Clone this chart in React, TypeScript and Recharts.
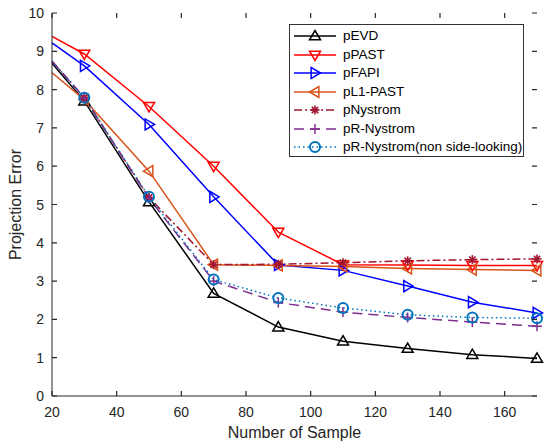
import React from "react";
import { LineChart, Line, XAxis, YAxis, Legend } from "recharts";

const samples = [20, 30, 50, 70, 90, 110, 130, 150, 170];
const pEVD = [8.69, 7.7, 5.07, 2.68, 1.8, 1.43, 1.24, 1.08, 0.98];
const pPAST = [9.39, 8.93, 7.56, 6.0, 4.28, 3.43, 3.42, 3.41, 3.41];
const pFAPI = [9.22, 8.62, 7.09, 5.2, 3.42, 3.28, 2.87, 2.45, 2.17];
const pL1PAST = [8.44, 7.74, 5.87, 3.43, 3.41, 3.38, 3.33, 3.3, 3.28];
const pNystrom = [8.75, 7.79, 5.18, 3.43, 3.44, 3.48, 3.53, 3.56, 3.58];
const pRNystrom = [8.73, 7.78, 5.16, 3.0, 2.44, 2.19, 2.05, 1.93, 1.82];
const pRNystromNSL = [8.74, 7.79, 5.2, 3.04, 2.56, 2.3, 2.12, 2.05, 2.03];

const xTicks = [20, 40, 60, 80, 100, 120, 140, 160];
const yTicks = [0, 1, 2, 3, 4, 5, 6, 7, 8, 9, 10];

type Kind = "up" | "down" | "right" | "left" | "star" | "plus" | "circle";

interface Series {
  key: string;
  name: string;
  color: string;
  kind: Kind;
  dash?: string;
  values: number[];
}

const SERIES: Series[] = [
  { key: "evd", name: "pEVD", color: "#000000", kind: "up", values: pEVD },
  { key: "past", name: "pPAST", color: "#FF0000", kind: "down", values: pPAST },
  { key: "fapi", name: "pFAPI", color: "#0000FF", kind: "right", values: pFAPI },
  { key: "l1", name: "pL1-PAST", color: "#D95319", kind: "left", values: pL1PAST },
  { key: "nys", name: "pNystrom", color: "#A2142F", kind: "star", dash: "8 3 2 3", values: pNystrom },
  { key: "rnys", name: "pR-Nystrom", color: "#7E2F8E", kind: "plus", dash: "10 6", values: pRNystrom },
  { key: "nsl", name: "pR-Nystrom(non side-looking)", color: "#0072BD", kind: "circle", dash: "1.5 3", values: pRNystromNSL },
];

const data = samples.map((x, i) => {
  const row: Record<string, number> = { x };
  SERIES.forEach((s) => (row[s.key] = s.values[i]));
  return row;
});

const FONT = "'Liberation Sans', Arial, sans-serif";
const INK = "#262626";

// plot frame (chart size minus margins / axis sizes)
const W = 550;
const H = 448;
const M = { top: 13, right: 13, bottom: 0, left: 0 };
const X_AXIS_H = 52;
const Y_AXIS_W = 52;
const FRAME = { left: Y_AXIS_W, right: W - M.right, top: M.top, bottom: H - X_AXIS_H };
const TICK_LEN = 5;

function Marker({ cx, cy, kind, color }: { cx: number; cy: number; kind: Kind; color: string }) {
  const r = 5.5;
  const common = { fill: "none", stroke: color, strokeWidth: 1.5 };
  switch (kind) {
    case "up":
      return <polygon points={`${cx},${cy - r} ${cx + r},${cy + r * 0.7} ${cx - r},${cy + r * 0.7}`} {...common} />;
    case "down":
      return <polygon points={`${cx},${cy + r} ${cx + r},${cy - r * 0.7} ${cx - r},${cy - r * 0.7}`} {...common} />;
    case "right":
      return <polygon points={`${cx + r},${cy} ${cx - r * 0.7},${cy - r} ${cx - r * 0.7},${cy + r}`} {...common} />;
    case "left":
      return <polygon points={`${cx - r},${cy} ${cx + r * 0.7},${cy - r} ${cx + r * 0.7},${cy + r}`} {...common} />;
    case "star": {
      const a = 4.5;
      const d = a * 0.707;
      return (
        <g stroke={color} strokeWidth={1.6}>
          <line x1={cx - a} y1={cy} x2={cx + a} y2={cy} />
          <line x1={cx} y1={cy - a} x2={cx} y2={cy + a} />
          <line x1={cx - d} y1={cy - d} x2={cx + d} y2={cy + d} />
          <line x1={cx - d} y1={cy + d} x2={cx + d} y2={cy - d} />
        </g>
      );
    }
    case "plus":
      return (
        <g stroke={color} strokeWidth={1.5}>
          <line x1={cx - 5} y1={cy} x2={cx + 5} y2={cy} />
          <line x1={cx} y1={cy - 5} x2={cx} y2={cy + 5} />
        </g>
      );
    default:
      return <circle cx={cx} cy={cy} r={5} fill="none" stroke={color} strokeWidth={2} />;
  }
}

function dotFor(s: Series) {
  return (props: any) => {
    const { cx, cy, payload, index } = props;
    // the curve starts at x=20 but markers begin at 30
    if (payload.x === 20 || cx == null || cy == null) return <g key={`${s.key}-${index}`} />;
    return (
      <g key={`${s.key}-${index}`}>
        <Marker cx={cx} cy={cy} kind={s.kind} color={s.color} />
      </g>
    );
  };
}

// MATLAB-style ticks: inward marks on both sides of the box, label outside
function XTick(props: any) {
  const { x, payload } = props;
  const cx = payload.coordinate ?? x;
  return (
    <g>
      <path d={`M${cx},${FRAME.bottom}V${FRAME.bottom - TICK_LEN}M${cx},${FRAME.top}V${FRAME.top + TICK_LEN}`} stroke={INK} strokeWidth={1.2} fill="none" />
      <text x={cx} y={FRAME.bottom + 21} textAnchor="middle" fontSize={14} fill={INK} fontFamily={FONT}>
        {payload.value}
      </text>
    </g>
  );
}

function YTick(props: any) {
  const { y, payload } = props;
  const cy = payload.coordinate ?? y;
  return (
    <g>
      <path d={`M${FRAME.left},${cy}H${FRAME.left + TICK_LEN}M${FRAME.right},${cy}H${FRAME.right - TICK_LEN}`} stroke={INK} strokeWidth={1.2} fill="none" />
      <text x={FRAME.left - 8} y={cy + 5} textAnchor="end" fontSize={14} fill={INK} fontFamily={FONT}>
        {payload.value}
      </text>
    </g>
  );
}

function LegendBox() {
  return (
    <div
      style={{
        width: 235,
        height: 133,
        border: "1px solid #333",
        background: "#fff",
        paddingTop: 2,
        boxSizing: "border-box",
        fontFamily: FONT,
        fontSize: 13.5,
        color: "#000",
      }}
    >
      {SERIES.map((s) => (
        <div key={s.key} style={{ display: "flex", alignItems: "center", height: 18.5 }}>
          <svg width={50} height={18} style={{ marginLeft: 3 }}>
            <line x1={1} y1={9} x2={43} y2={9} stroke={s.color} strokeWidth={1.5} strokeDasharray={s.dash} />
            <Marker cx={22} cy={9} kind={s.kind} color={s.color} />
          </svg>
          <span style={{ lineHeight: "18px" }}>{s.name}</span>
        </div>
      ))}
    </div>
  );
}

export default function App() {
  React.useEffect(() => {
    document.body.style.margin = "0";
  }, []);
  return (
    <div style={{ width: W, height: H, background: "#fff" }}>
      <LineChart width={W} height={H} data={data} margin={M}>
        <XAxis
          dataKey="x"
          type="number"
          domain={[20, 170]}
          ticks={xTicks}
          height={X_AXIS_H}
          stroke={INK}
          tickLine={false}
          tick={(p: any) => <XTick {...p} />}
          label={{ value: "Number of Sample", position: "insideBottom", offset: 10, style: { fontSize: 16, fill: INK, fontFamily: FONT } }}
        />
        <XAxis xAxisId="top" orientation="top" dataKey="x" type="number" domain={[20, 170]} height={0} stroke={INK} tickLine={false} tick={false} />
        <YAxis
          type="number"
          domain={[0, 10]}
          ticks={yTicks}
          width={Y_AXIS_W}
          stroke={INK}
          tickLine={false}
          tick={(p: any) => <YTick {...p} />}
          label={{ value: "Projection Error", angle: -90, position: "insideLeft", offset: 15, style: { textAnchor: "middle", fontSize: 16, fill: INK, fontFamily: FONT } }}
        />
        <YAxis yAxisId="right" orientation="right" type="number" domain={[0, 10]} width={0} stroke={INK} tickLine={false} tick={false} />
        <Legend
          layout="vertical"
          align="center"
          verticalAlign="middle"
          wrapperStyle={{ left: 289, top: 24, width: 235, height: 133 }}
          content={() => <LegendBox />}
        />
        {SERIES.map((s) => (
          <Line
            key={s.key}
            dataKey={s.key}
            name={s.name}
            stroke={s.color}
            strokeWidth={1.5}
            strokeDasharray={s.dash}
            type="linear"
            dot={dotFor(s)}
            activeDot={false}
            isAnimationActive={false}
          />
        ))}
      </LineChart>
    </div>
  );
}
